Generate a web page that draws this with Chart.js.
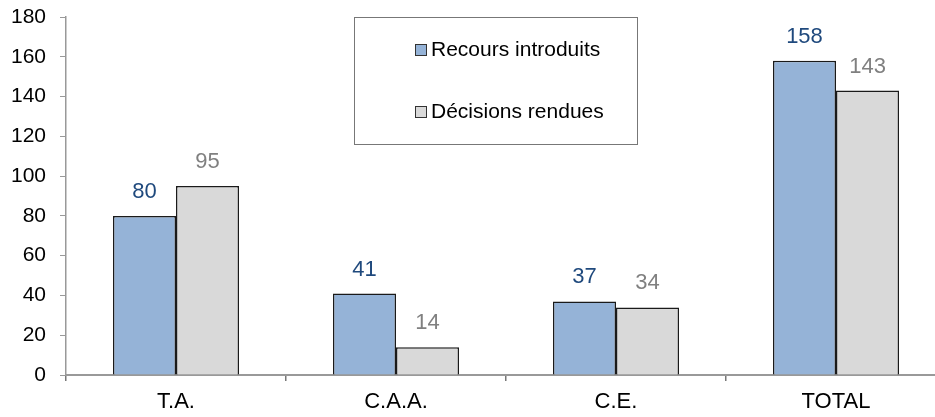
<!DOCTYPE html>
<html>
<head>
<meta charset="utf-8">
<script src="https://cdn.jsdelivr.net/npm/chart.js@4/dist/chart.umd.min.js"></script>
<style>
  html, body { margin: 0; padding: 0; background: #fff; overflow: hidden; }
  #wrap { width: 950px; height: 417px; }
</style>
</head>
<body>
<div id="wrap"><canvas id="c" width="950" height="417"></canvas></div>
<script>
const categories = ['T.A.', 'C.A.A.', 'C.E.', 'TOTAL'];
const recoursIntroduits = [80, 41, 37, 158];
const decisionsRendues = [95, 14, 34, 143];
const seriesNames = ['Recours introduits', 'Décisions rendues'];
const yMin = 0, yMax = 180, yStep = 20;

const FONT = "'Liberation Sans', Arial, sans-serif";

const valueLabels = {
  id: 'valueLabels',
  afterDatasetsDraw(chart) {
    const ctx = chart.ctx;
    ctx.save();
    ctx.font = '22px ' + FONT;
    ctx.textAlign = 'center';
    ctx.textBaseline = 'middle';
    chart.data.datasets.forEach((ds, i) => {
      const meta = chart.getDatasetMeta(i);
      ctx.fillStyle = ds.labelColor;
      meta.data.forEach((bar, j) => {
        ctx.fillText(String(ds.data[j]), bar.x, bar.y - 24);
      });
    });
    ctx.restore();
  }
};

const boxLegend = {
  id: 'boxLegend',
  afterDraw(chart) {
    const ctx = chart.ctx;
    ctx.save();
    ctx.strokeStyle = '#777';
    ctx.lineWidth = 1;
    ctx.fillStyle = '#fff';
    ctx.fillRect(354.5, 17.5, 283, 127);
    ctx.strokeRect(354.5, 17.5, 283, 127);
    ctx.font = '21px ' + FONT;
    ctx.textBaseline = 'middle';
    ctx.textAlign = 'left';
    const rows = [50, 112];
    chart.data.datasets.forEach((ds, i) => {
      const y = rows[i];
      ctx.fillStyle = ds.backgroundColor;
      ctx.fillRect(415.5, y - 5.5, 11, 11);
      ctx.strokeStyle = '#333';
      ctx.lineWidth = 1;
      ctx.strokeRect(415.5, y - 5.5, 11, 11);
      ctx.fillStyle = '#000';
      ctx.fillText(ds.label, 431, y);
    });
    ctx.restore();
  }
};

new Chart(document.getElementById('c'), {
  type: 'bar',
  data: {
    labels: categories,
    datasets: [
      {
        label: seriesNames[0],
        data: recoursIntroduits,
        backgroundColor: '#95B3D7',
        borderColor: '#1a1a1a',
        borderWidth: 1.5,
        labelColor: '#1F497D',
        categoryPercentage: 0.573,
        barPercentage: 1.0
      },
      {
        label: seriesNames[1],
        data: decisionsRendues,
        backgroundColor: '#D9D9D9',
        borderColor: '#1a1a1a',
        borderWidth: 1.5,
        labelColor: '#808080',
        categoryPercentage: 0.573,
        barPercentage: 1.0
      }
    ]
  },
  options: {
    responsive: false,
    animation: false,
    devicePixelRatio: 1,
    layout: { padding: { top: 17, right: 4, bottom: 0, left: 0 } },
    plugins: {
      legend: { display: false },
      tooltip: { enabled: false }
    },
    scales: {
      x: {
        grid: { offset: true, drawOnChartArea: false, drawTicks: true, tickLength: 6, color: '#777', lineWidth: 1.5 },
        border: { color: '#999', width: 2 },
        ticks: { color: '#000', font: { family: FONT, size: 22 }, padding: 8, maxRotation: 0 },
        afterFit(scale) { scale.height = 42; scale.paddingLeft = 0; scale.paddingRight = 0; }
      },
      y: {
        min: yMin,
        max: yMax,
        grid: { drawOnChartArea: false, drawTicks: true, tickLength: 6, color: '#999', lineWidth: 1 },
        border: { color: '#999', width: 1.5 },
        ticks: { stepSize: yStep, color: '#000', font: { family: FONT, size: 21 }, padding: 14 },
        afterFit(scale) { scale.width = 66; scale.paddingTop = 0; scale.paddingBottom = 0; }
      }
    }
  },
  plugins: [valueLabels, boxLegend]
});
</script>
</body>
</html>
